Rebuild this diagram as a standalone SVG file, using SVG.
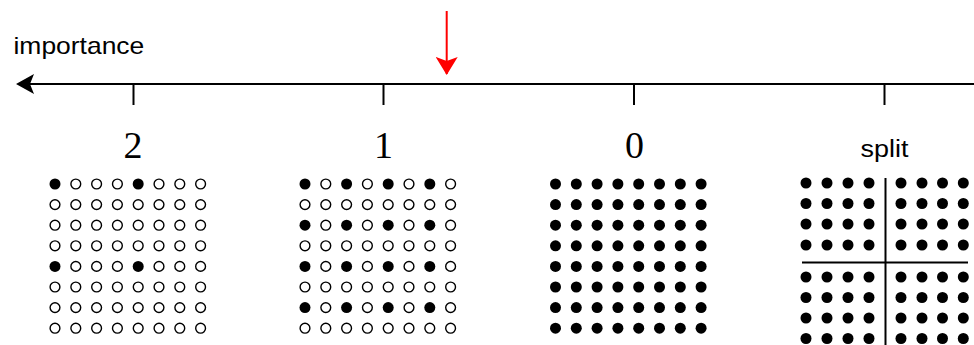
<svg xmlns="http://www.w3.org/2000/svg" xmlns:xlink="http://www.w3.org/1999/xlink" width="974" height="345" viewBox="0 0 974 345">
<style>
.h{fill:#fff;stroke:#000;stroke-width:1.4}
.f{fill:#000;stroke:none}
.ax{stroke:#000;stroke-width:2;fill:none}
.sans{font-family:"Liberation Sans",Arial,sans-serif;fill:#000;font-size:23px}
.num{font-family:"Liberation Serif","Times New Roman",serif;font-size:38px;fill:#000;text-anchor:middle}
</style>
<defs>
<circle id="ch" class="h" r="4.9"/>
<circle id="cf" class="f" r="5.5"/>
<g id="rowH">
<use href="#ch" x="0"/><use href="#ch" x="20.8"/><use href="#ch" x="41.6"/><use href="#ch" x="62.4"/><use href="#ch" x="83.2"/><use href="#ch" x="104"/><use href="#ch" x="124.8"/><use href="#ch" x="145.6"/>
</g>
<g id="rowA">
<use href="#cf" x="0"/><use href="#ch" x="20.8"/><use href="#ch" x="41.6"/><use href="#ch" x="62.4"/><use href="#cf" x="83.2"/><use href="#ch" x="104"/><use href="#ch" x="124.8"/><use href="#ch" x="145.6"/>
</g>
<g id="rowB">
<use href="#cf" x="0"/><use href="#ch" x="20.8"/><use href="#cf" x="41.6"/><use href="#ch" x="62.4"/><use href="#cf" x="83.2"/><use href="#ch" x="104"/><use href="#cf" x="124.8"/><use href="#ch" x="145.6"/>
</g>
<g id="rowF">
<use href="#cf" x="0"/><use href="#cf" x="20.8"/><use href="#cf" x="41.6"/><use href="#cf" x="62.4"/><use href="#cf" x="83.2"/><use href="#cf" x="104"/><use href="#cf" x="124.8"/><use href="#cf" x="145.6"/>
</g>
<g id="rowS">
<use href="#cf" x="0"/><use href="#cf" x="21"/><use href="#cf" x="42"/><use href="#cf" x="63"/><use href="#cf" x="95"/><use href="#cf" x="116"/><use href="#cf" x="136.5"/><use href="#cf" x="157.3"/>
</g>
<marker id="arrK" viewBox="0 0 18 20" refX="16" refY="10" markerWidth="18" markerHeight="20" markerUnits="userSpaceOnUse" orient="auto">
<path d="M0,0 L18,10 L0,20 L4,10 Z" fill="#000"/>
</marker>
<marker id="arrR" viewBox="0 0 18 22" refX="17" refY="11" markerWidth="18" markerHeight="22" markerUnits="userSpaceOnUse" orient="auto">
<path d="M0,0 L18,11 L0,22 L4,11 Z" fill="#f00"/>
</marker>
</defs>

<g id="connectors">
<line class="ax" x1="974" y1="84" x2="18" y2="84" marker-end="url(#arrK)"/>
<line class="ax" x1="133.5" y1="84" x2="133.5" y2="105"/>
<line class="ax" x1="383.5" y1="84" x2="383.5" y2="105"/>
<line class="ax" x1="634" y1="84" x2="634" y2="105"/>
<line class="ax" x1="884.5" y1="84" x2="884.5" y2="105"/>
<line x1="446.7" y1="11" x2="446.7" y2="74" stroke="#f00" stroke-width="2" marker-end="url(#arrR)"/>
</g>

<g id="axis-label">
<text class="sans" transform="translate(13.5,54) scale(1.15,1)">importance</text>
</g>

<g id="level2">
<text class="num" x="133" y="158">2</text>
<use href="#rowA" x="55" y="184"/>
<use href="#rowH" x="55" y="204.6"/>
<use href="#rowH" x="55" y="225.2"/>
<use href="#rowH" x="55" y="245.8"/>
<use href="#rowA" x="55" y="266.4"/>
<use href="#rowH" x="55" y="287"/>
<use href="#rowH" x="55" y="307.6"/>
<use href="#rowH" x="55" y="328.2"/>
</g>

<g id="level1">
<text class="num" x="383.5" y="158">1</text>
<use href="#rowB" x="305" y="184"/>
<use href="#rowH" x="305" y="204.6"/>
<use href="#rowB" x="305" y="225.2"/>
<use href="#rowH" x="305" y="245.8"/>
<use href="#rowB" x="305" y="266.4"/>
<use href="#rowH" x="305" y="287"/>
<use href="#rowB" x="305" y="307.6"/>
<use href="#rowH" x="305" y="328.2"/>
</g>

<g id="level0">
<text class="num" x="634.5" y="158">0</text>
<use href="#rowF" x="555.5" y="184"/>
<use href="#rowF" x="555.5" y="204.6"/>
<use href="#rowF" x="555.5" y="225.2"/>
<use href="#rowF" x="555.5" y="245.8"/>
<use href="#rowF" x="555.5" y="266.4"/>
<use href="#rowF" x="555.5" y="287"/>
<use href="#rowF" x="555.5" y="307.6"/>
<use href="#rowF" x="555.5" y="328.2"/>
</g>

<g id="split">
<text class="sans" transform="translate(884.5,157) scale(1.17,1)" text-anchor="middle">split</text>
<use href="#rowS" x="806" y="183"/>
<use href="#rowS" x="806" y="203.5"/>
<use href="#rowS" x="806" y="224"/>
<use href="#rowS" x="806" y="245"/>
<use href="#rowS" x="806" y="277"/>
<use href="#rowS" x="806" y="297.5"/>
<use href="#rowS" x="806" y="318"/>
<use href="#rowS" x="806" y="338.5"/>
<line class="ax" x1="885.5" y1="178" x2="885.5" y2="345"/>
<line class="ax" x1="802" y1="262.5" x2="968" y2="262.5"/>
</g>
</svg>
